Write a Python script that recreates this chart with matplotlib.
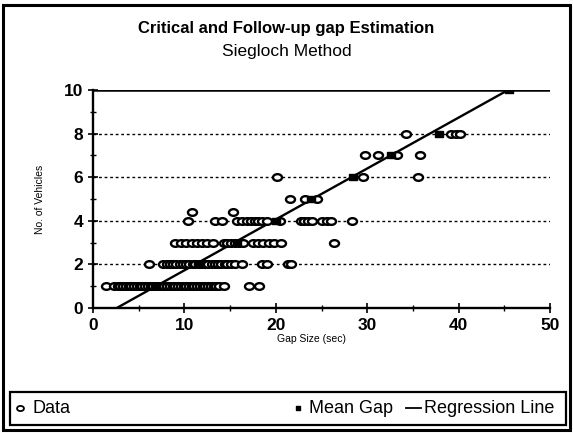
import matplotlib
matplotlib.use("Agg")
import matplotlib.pyplot as plt
from matplotlib.path import Path
from matplotlib.transforms import Affine2D
from matplotlib.lines import Line2D
from matplotlib.patches import Rectangle

plt.rcParams['font.family'] = ['Liberation Sans', 'DejaVu Sans']

# gap observations, grouped by number of vehicles entering
gaps_1 = [1.4, 2.3, 2.7, 3.0, 3.3, 3.6, 3.9, 4.2, 4.5, 4.8, 5.1, 5.4, 5.7, 6.0, 6.3,
          6.6, 6.9, 7.2, 7.5, 7.8, 8.1, 8.4, 8.7, 9.0, 9.3, 9.6, 9.9, 10.2, 10.5,
          10.8, 11.1, 11.4, 11.7, 12.0, 12.3, 12.6, 12.9, 13.2, 13.5, 13.8, 14.3,
          17.1, 18.2]
gaps_2 = [6.1, 7.7, 8.1, 8.4, 8.8, 9.1, 9.5, 9.8, 10.2, 10.5, 10.9, 11.2, 11.6, 11.9,
          12.3, 12.6, 13.0, 13.3, 13.7, 14.0, 14.4, 14.7, 15.1, 15.5, 16.3,
          18.5, 19.0, 21.3, 21.7]
gaps_3 = [9.0, 9.6, 10.2, 10.8, 11.4, 11.9, 12.5, 13.1, 14.3, 14.7, 15.1, 15.5, 16.0,
          16.4, 17.5, 18.0, 18.6, 19.2, 19.8, 20.6, 26.4]
gaps_4 = [10.4, 13.4, 14.1, 15.8, 16.3, 16.8, 17.3, 17.7, 18.1, 18.5, 19.0, 20.5,
          22.7, 23.1, 23.5, 24.0, 25.0, 25.6, 26.0, 28.3]
gaps_4_up = [10.8, 15.3]
gaps_5 = [21.5, 23.2, 24.5]
gaps_6 = [20.1, 29.5, 35.5]
gaps_7 = [29.8, 31.2, 33.2, 35.8]
gaps_8 = [34.2, 39.2, 39.7, 40.2]

mean_veh = [1, 2, 3, 4, 5, 6, 7, 8, 10]
mean_gap = [6.9, 11.5, 15.8, 20.0, 23.8, 28.4, 32.6, 37.8, 45.5]

reg_x = [2.6, 45.4]
reg_y = [0, 10]

legend_labels = ["Data", "Mean Gap", "Regression Line"]

data_x = gaps_1 + gaps_2 + gaps_3 + gaps_4 + gaps_4_up + gaps_5 + gaps_6 + gaps_7 + gaps_8
data_y = ([1] * len(gaps_1) + [2] * len(gaps_2) + [3] * len(gaps_3) + [4] * len(gaps_4)
          + [4.4] * len(gaps_4_up) + [5] * len(gaps_5) + [6] * len(gaps_6)
          + [7] * len(gaps_7) + [8] * len(gaps_8))

ellipse = Path.unit_circle().transformed(Affine2D().scale(1.35, 1.0))
rect = Path([(-1.5, -1), (1.5, -1), (1.5, 1), (-1.5, 1), (-1.5, -1)],
            [Path.MOVETO, Path.LINETO, Path.LINETO, Path.LINETO, Path.CLOSEPOLY])

fig = plt.figure(figsize=(5.73, 4.33), dpi=100)
ax = fig.add_axes([0.1623, 0.2887, 0.7977, 0.5033])

ax.plot(reg_x, reg_y, color='black', lw=1.7, zorder=2)
ax.plot(data_x, data_y, ls='none', marker=ellipse, ms=6.5, mfc='white', mec='black',
        mew=1.7, zorder=3)
ax.plot(mean_gap, mean_veh, ls='none', marker=rect, ms=6, mfc='black', mec='black',
        zorder=4)

ax.set_xlim(0, 50)
ax.set_ylim(0, 10)
ax.set_xticks(range(0, 51, 10))
ax.set_xticks(range(0, 51, 5), minor=True)
ax.set_yticks(range(0, 11, 2))
ax.set_yticks(range(0, 11, 1), minor=True)
for y in [2, 4, 6, 8]:
    ax.axhline(y, color='black', lw=1.0, ls=(0, (2, 2)), zorder=1)
ax.axhline(10, color='black', lw=1.8, zorder=1)

for s in ['top', 'right']:
    ax.spines[s].set_visible(False)
ax.spines['left'].set_linewidth(1.7)
ax.spines['bottom'].set_linewidth(1.7)
ax.tick_params(which='major', direction='inout', length=7, width=1.2)
ax.tick_params(which='minor', direction='inout', length=4, width=1.0)
for lab in ax.get_xticklabels() + ax.get_yticklabels():
    lab.set_fontweight('bold')
    lab.set_fontsize(12.5)

ax.set_xlabel("Gap Size (sec)", fontsize=7.5, va='center')
ax.xaxis.set_label_coords(0.479, -0.14)
ax.set_ylabel("No. of Vehicles", fontsize=7.5, va='center')
ax.yaxis.set_label_coords(-0.116, 0.5)

fig.text(0.5, 0.935, "Critical and Follow-up gap Estimation", ha='center', va='center',
         fontsize=12, fontweight='bold')
fig.text(0.5, 0.88, "Siegloch Method", ha='center', va='center', fontsize=12.5)

# outer chart border
fig.patches.append(Rectangle((0.006, 0.008), 0.988, 0.98, transform=fig.transFigure,
                             fill=False, ec='black', lw=2.2))

# legend box drawn by hand so the entries sit where the original has them
fig.patches.append(Rectangle((0.0175, 0.0185), 0.9705, 0.0762, transform=fig.transFigure,
                             fill=False, ec='black', lw=1.6))
ly = 0.0566
fig.lines.append(Line2D([20 / 573], [ly], transform=fig.transFigure, ls='none',
                        marker=ellipse, ms=5, mfc='white', mec='black', mew=1.3))
fig.lines.append(Line2D([298 / 573], [ly], transform=fig.transFigure, ls='none',
                        marker=rect, ms=3.5, mfc='black', mec='black'))
fig.lines.append(Line2D([406 / 573, 421 / 573], [ly, ly], transform=fig.transFigure,
                        color='black', lw=1.3))
for xpx, lab in zip([32, 309, 424], legend_labels):
    fig.text(xpx / 573, ly, lab, ha='left', va='center', fontsize=13)

fig.savefig("out.png", dpi=100)
